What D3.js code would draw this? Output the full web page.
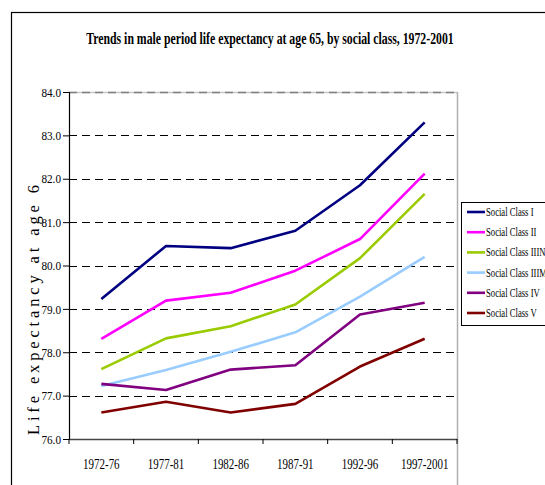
<!DOCTYPE html>
<html>
<head>
<meta charset="utf-8">
<script src="https://cdn.jsdelivr.net/npm/d3@7"></script>
<style>
  body { margin: 0; background: #fff; }
  svg { display: block; }
  svg text { font-family: "Liberation Serif", "Times New Roman", serif; }
</style>
</head>
<body>
<svg id="chart" width="545" height="485"></svg>
<script>
// periods on the x axis
const periods = ["1972-76", "1977-81", "1982-86", "1987-91", "1992-96", "1997-2001"];

// series names + colours (legend order)
const classNames = ["Social Class I", "Social Class II", "Social Class IIIN", "Social Class IIIM", "Social Class IV", "Social Class V"];
const classColors = ["#000080", "#ff00ff", "#99cc00", "#99ccff", "#800080", "#800000"];

// life expectancy at 65
const classI    = [79.23, 80.45, 80.40, 80.80, 81.85, 83.30];
const classII   = [78.31, 79.19, 79.37, 79.88, 80.61, 82.12];
const classIIIN = [77.61, 78.32, 78.60, 79.10, 80.17, 81.65];
const classIIIM = [77.22, 77.59, 78.01, 78.46, 79.28, 80.20];
const classIV   = [77.27, 77.13, 77.60, 77.70, 78.87, 79.14];
const classV    = [76.61, 76.86, 76.61, 76.81, 77.67, 78.31];

const yTicks = [76, 77, 78, 79, 80, 81, 82, 83, 84];

const series = [classI, classII, classIIIN, classIIIM, classIV, classV].map((v, i) => ({
  name: classNames[i],
  color: classColors[i],
  values: v.map((d, j) => ({ period: periods[j], value: d }))
}));

const svg = d3.select("#chart");

// squeeze text horizontally (the original font is rendered narrow)
function condense(sel, k) {
  sel.each(function() {
    const w = this.getComputedTextLength();
    d3.select(this).attr("textLength", w * k).attr("lengthAdjust", "spacingAndGlyphs");
  });
}

// outer frame
svg.append("rect")
  .attr("x", 11.5).attr("y", 12.5)
  .attr("width", 600).attr("height", 600)
  .attr("fill", "none").attr("stroke", "#000").attr("stroke-width", 1.2);

// title
svg.append("text")
  .attr("x", 270).attr("y", 44)
  .attr("text-anchor", "middle")
  .style("font-size", "16px").style("font-weight", "bold")
  .text("Trends in male period life expectancy at age 65, by social class, 1972-2001")
  .call(condense, 0.735);

const plot = { left: 69, right: 457, top: 92, bottom: 439 };

const x = d3.scaleBand().domain(periods).range([plot.left, plot.right]);
const y = d3.scaleLinear().domain([76, 84]).range([plot.bottom, plot.top]);

// gridlines
svg.append("g")
  .selectAll("line")
  .data(yTicks.filter(t => t > 76 && t < 84))
  .enter()
  .append("line")
  .attr("x1", plot.left).attr("x2", plot.right)
  .attr("y1", d => Math.round(y(d)) + 0.5).attr("y2", d => Math.round(y(d)) + 0.5)
  .attr("stroke", "#000").attr("stroke-width", 1)
  .attr("stroke-dasharray", "8,5");

// top + right edge of plot area (gray)
svg.append("line")
  .attr("x1", plot.left).attr("x2", plot.right)
  .attr("y1", plot.top + 0.5).attr("y2", plot.top + 0.5)
  .attr("stroke", "#c8c8c8").attr("stroke-width", 1.5);
svg.append("line")
  .attr("x1", plot.left).attr("x2", plot.right)
  .attr("y1", plot.top + 0.5).attr("y2", plot.top + 0.5)
  .attr("stroke", "#808080").attr("stroke-width", 1.5)
  .attr("stroke-dasharray", "8,5");
svg.append("line")
  .attr("x1", plot.right + 0.5).attr("x2", plot.right + 0.5)
  .attr("y1", plot.top).attr("y2", 485)
  .attr("stroke", "#b0b0b0").attr("stroke-width", 1.5);

// y axis
const yAxis = svg.append("g")
  .attr("transform", `translate(${plot.left},0)`)
  .call(d3.axisLeft(y).tickValues(yTicks).tickFormat(d3.format(".1f")).tickSize(6).tickPadding(2));
yAxis.attr("font-family", null);
yAxis.select(".domain").attr("stroke", "#000").attr("stroke-width", 1.2);
yAxis.selectAll("text")
  .style("font-size", "13px")
  .attr("fill", "#000")
  .call(condense, 0.86);

// x axis
const xAxis = svg.append("g")
  .attr("transform", `translate(0,${plot.bottom})`)
  .call(d3.axisBottom(x).tickSize(0).tickPadding(19));
xAxis.attr("font-family", null);
xAxis.select(".domain").attr("stroke", "#444").attr("stroke-width", 1.5);
xAxis.selectAll("text")
  .style("font-size", "15px")
  .attr("fill", "#000")
  .call(condense, 0.73);

// tick marks between categories
svg.append("g")
  .selectAll("line")
  .data(periods.concat([null]))
  .enter()
  .append("line")
  .attr("x1", d => d === null ? plot.right : x(d))
  .attr("x2", d => d === null ? plot.right : x(d))
  .attr("y1", plot.bottom).attr("y2", plot.bottom + 5)
  .attr("stroke", "#000").attr("stroke-width", 1);

// y axis title, partly hidden at the top like the original
svg.append("clipPath").attr("id", "ylabClip")
  .append("rect").attr("x", 0).attr("y", 185).attr("width", 60).attr("height", 300);

svg.append("g")
  .attr("clip-path", "url(#ylabClip)")
  .append("text")
  .attr("transform", "translate(39,435) rotate(-90)")
  .style("font-size", "16.5px")
  .attr("lengthAdjust", "spacing")
  .attr("textLength", 262)
  .text("Life expectancy at age 65");

// lines
const line = d3.line()
  .x(d => x(d.period) + x.bandwidth() / 2)
  .y(d => y(d.value));

svg.append("g")
  .selectAll("path")
  .data(series)
  .enter()
  .append("path")
  .attr("d", d => line(d.values))
  .attr("fill", "none")
  .attr("stroke", d => d.color)
  .attr("stroke-width", 2.6)
  .attr("stroke-linejoin", "round");

// legend
const legend = svg.append("g").attr("transform", "translate(461,202)");
legend.append("rect")
  .attr("x", 0.5).attr("y", 0.5)
  .attr("width", 120).attr("height", 123)
  .attr("fill", "#fff").attr("stroke", "#000").attr("stroke-width", 1);

const items = legend.selectAll("g.item")
  .data(series)
  .enter()
  .append("g")
  .attr("class", "item")
  .attr("transform", (d, i) => `translate(0,${10 + i * 20.2})`);

items.append("line")
  .attr("x1", 6).attr("x2", 24)
  .attr("stroke", d => d.color).attr("stroke-width", 2.6);

items.append("text")
  .attr("x", 25).attr("y", 4)
  .style("font-size", "12px")
  .text(d => d.name)
  .call(condense, 0.72);
</script>
</body>
</html>
